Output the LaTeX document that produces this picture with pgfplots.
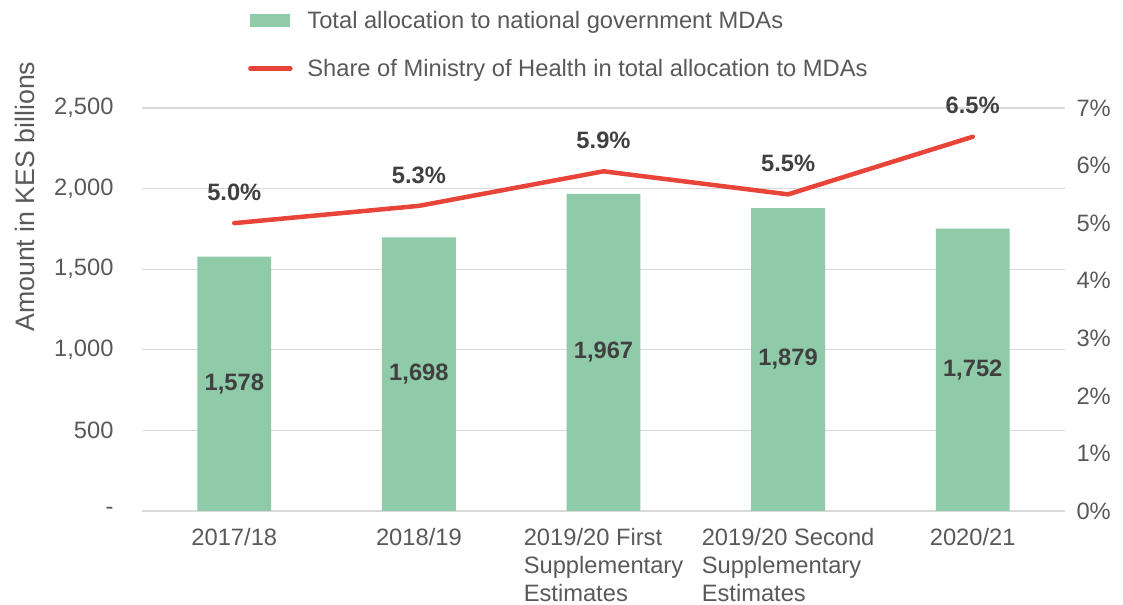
\documentclass[border=0pt]{standalone}
\usepackage{pgfplots}
\pgfplotsset{compat=1.18}
\usepackage{fontspec}
\setmainfont{Liberation Sans}
\definecolor{bargreen}{HTML}{8FCAA9}
\definecolor{linered}{HTML}{E8443A}
\definecolor{txtgray}{HTML}{595959}
\definecolor{lblgray}{HTML}{404040}
\definecolor{gridgray}{HTML}{D9D9D9}
\newcommand{\fs}{\fontsize{23.8pt}{28pt}\selectfont}
\begin{document}
\begin{tikzpicture}[x=1bp,y=1bp]
\useasboundingbox (0,0) rectangle (1123,605);
\begin{axis}[
  at={(142bp,94bp)}, anchor=south west,
  scale only axis, width=923bp, height=403bp,
  xmin=-0.5, xmax=4.5, ymin=0, ymax=2500,
  axis line style={draw=none},
  major tick length=0pt,
  xtick={0,1,2,3,4},
  xticklabels={2017/18,2018/19,{2019/20 First\\Supplementary\\Estimates},{2019/20 Second\\Supplementary\\Estimates},2020/21},
  xticklabel style={align=left, anchor=north, text=txtgray, font=\fs, yshift=-14bp},
  ytick={0,500,1000,1500,2000,2500},
  yticklabels={-,500,{1,000},{1,500},{2,000},{2,500}},
  yticklabel style={text=txtgray, font=\fs, xshift=-25bp},
  ymajorgrids, grid style={gridgray, line width=1.2bp},
  ylabel={Amount in KES billions},
  every axis y label/.style={at={(rel axis cs:0,0.78)}, xshift=-117bp, rotate=90, anchor=center, text=txtgray, font=\fontsize{26.8pt}{30pt}\selectfont},
  bar width=0.40,
  legend style={at={(rel axis cs:0.1148,1.245)}, anchor=north west, draw=none, fill=none,
    font=\fs, text=txtgray, row sep=25bp, inner sep=0pt,
    legend cell align=left},
  clip=false,
]
\addplot[ybar, fill=bargreen, draw=none,
  point meta=explicit symbolic,
  visualization depends on=rawy \as \rawy,
  nodes near coords,
  every node near coord/.append style={anchor=center, yshift={-0.0806bp*\rawy}, text=lblgray, font=\bfseries\fs},
  legend image code/.code={\fill[bargreen] (0bp,-6bp) rectangle (40bp,7bp); \path[draw=none,fill=none] (0bp,0bp) -- (55bp,0bp);}
] coordinates {
  (0,1578) [{1,578}]
  (1,1698) [{1,698}]
  (2,1967) [{1,967}]
  (3,1879) [{1,879}]
  (4,1752) [{1,752}]
};
\addlegendentry{Total allocation to national government MDAs}
\addlegendimage{legend image code/.code={\draw[linered, line width=4.5bp, line cap=round] (0bp,0bp) -- (40bp,0bp); \path[draw=none,fill=none] (0bp,0bp) -- (55bp,0bp);}}
\addlegendentry{Share of Ministry of Health in total allocation to MDAs}
\end{axis}
\begin{axis}[
  at={(142bp,94bp)}, anchor=south west,
  scale only axis, width=923bp, height=403bp,
  xmin=-0.5, xmax=4.5, ymin=0, ymax=7,
  axis x line=none,
  axis y line*=right, axis line style={draw=none},
  major tick length=0pt,
  ytick={0,1,2,3,4,5,6,7},
  yticklabels={0\%,1\%,2\%,3\%,4\%,5\%,6\%,7\%},
  yticklabel style={text=txtgray, font=\fs, anchor=west, xshift=8bp},
  clip=false,
]
\addplot[linered, line width=4.5bp, line join=round, line cap=round, mark=none,
  point meta=explicit symbolic, nodes near coords,
  every node near coord/.append style={anchor=center, yshift=31bp, text=lblgray, font=\bfseries\fs}
] coordinates {
  (0,5.0) [5.0\%]
  (1,5.3) [5.3\%]
  (2,5.9) [5.9\%]
  (3,5.5) [5.5\%]
  (4,6.5) [6.5\%]
};
\end{axis}
\end{tikzpicture}
\end{document}
